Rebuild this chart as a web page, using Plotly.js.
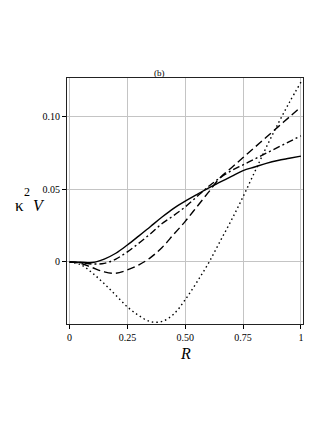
<!DOCTYPE html>
<html>
<head>
<meta charset="utf-8">
<script src="https://cdn.plot.ly/plotly-3.0.1.min.js"></script>
<style>
  html, body { margin: 0; padding: 0; background: #fff; }
  #chart { width: 327px; height: 423px; }
</style>
</head>
<body>
<div id="chart"></div>
<script>
// R values shared by all four curves
var R = [0, 0.05, 0.1, 0.15, 0.2, 0.25, 0.3, 0.35, 0.4, 0.45, 0.5,
         0.55, 0.6, 0.65, 0.7, 0.75, 0.8, 0.85, 0.9, 0.95, 1];

// kappa^2 V
var solidV   = [0, -0.0002, -0.0004, 0.002, 0.006, 0.0117, 0.018, 0.0245, 0.031, 0.037, 0.042,
                0.0465, 0.051, 0.055, 0.059, 0.063, 0.0655, 0.068, 0.070, 0.0715, 0.073];
var dashdotV = [0, -0.0005, -0.0014, -0.001, 0.002, 0.007, 0.013, 0.0195, 0.0265, 0.032, 0.038,
                0.045, 0.052, 0.058, 0.063, 0.067, 0.071, 0.075, 0.079, 0.083, 0.087];
var dashV    = [0, -0.001, -0.004, -0.0068, -0.0078, -0.0055, -0.002, 0.003, 0.010, 0.019, 0.028,
                0.038, 0.048, 0.058, 0.065, 0.072, 0.079, 0.086, 0.093, 0.100, 0.107];
var dotV     = [0, -0.002, -0.0078, -0.015, -0.023, -0.031, -0.037, -0.0412, -0.041, -0.036, -0.026,
                -0.014, -0.001, 0.014, 0.029, 0.045, 0.062, 0.079, 0.095, 0.110, 0.124];

var xTicks = [0, 0.25, 0.5, 0.75, 1];
var xLabels = ['0', '0.25', '0.50', '0.75', '1'];
var yTicks = [0, 0.05, 0.10];
var yLabels = ['0', '0.05', '0.10'];

var serif = 'Liberation Serif';

function curve(y, dash) {
  return {
    type: 'scatter', mode: 'lines', x: R, y: y,
    line: { color: '#000', width: 1.4, dash: dash, shape: 'spline' },
    showlegend: false, hoverinfo: 'skip'
  };
}

var data = [
  curve(dotV, '1.5px,3px'),
  curve(dashV, '8px,4px'),
  curve(dashdotV, '7px,3px,2px,3px'),
  curve(solidV, 'solid')
];

var axisFont = { family: serif, size: 10, color: '#000' };

function label(text, x, y, size) {
  return {
    xref: 'paper', yref: 'paper', x: x, y: y, xanchor: 'center', yanchor: 'middle',
    text: text, showarrow: false,
    font: { family: serif, size: size, color: '#000' }
  };
}

var layout = {
  width: 327, height: 423,
  margin: { l: 67, r: 24, t: 78, b: 99 },
  paper_bgcolor: '#fff', plot_bgcolor: '#fff',
  title: {
    text: '(b)', x: 0.487, xanchor: 'center', y: 0.827, yanchor: 'middle',
    font: { family: serif, size: 9, color: '#000' }
  },
  xaxis: {
    range: [-0.011, 1.009], tickvals: xTicks, ticktext: xLabels,
    showgrid: true, gridcolor: '#c4c4c4', gridwidth: 1,
    zeroline: false, showline: true, linecolor: '#222', linewidth: 1, mirror: true,
    ticks: 'outside', ticklen: 4, tickcolor: '#000', tickfont: axisFont
  },
  yaxis: {
    range: [-0.0428, 0.1269], tickvals: yTicks, ticktext: yLabels,
    showgrid: true, gridcolor: '#c4c4c4', gridwidth: 1,
    zeroline: false, showline: true, linecolor: '#222', linewidth: 1, mirror: true,
    ticks: 'outside', ticklen: 4, tickcolor: '#000', tickfont: axisFont
  },
  annotations: [
    label('\u03ba', -0.2, 0.48, 17),
    label('2', -0.17, 0.535, 12),
    label('<i>V</i>', -0.12, 0.48, 16),
    label('<i>R</i>', 0.5, -0.118, 16)
  ]
};

Plotly.newPlot('chart', data, layout, { displayModeBar: false, staticPlot: true });
</script>
</body>
</html>
